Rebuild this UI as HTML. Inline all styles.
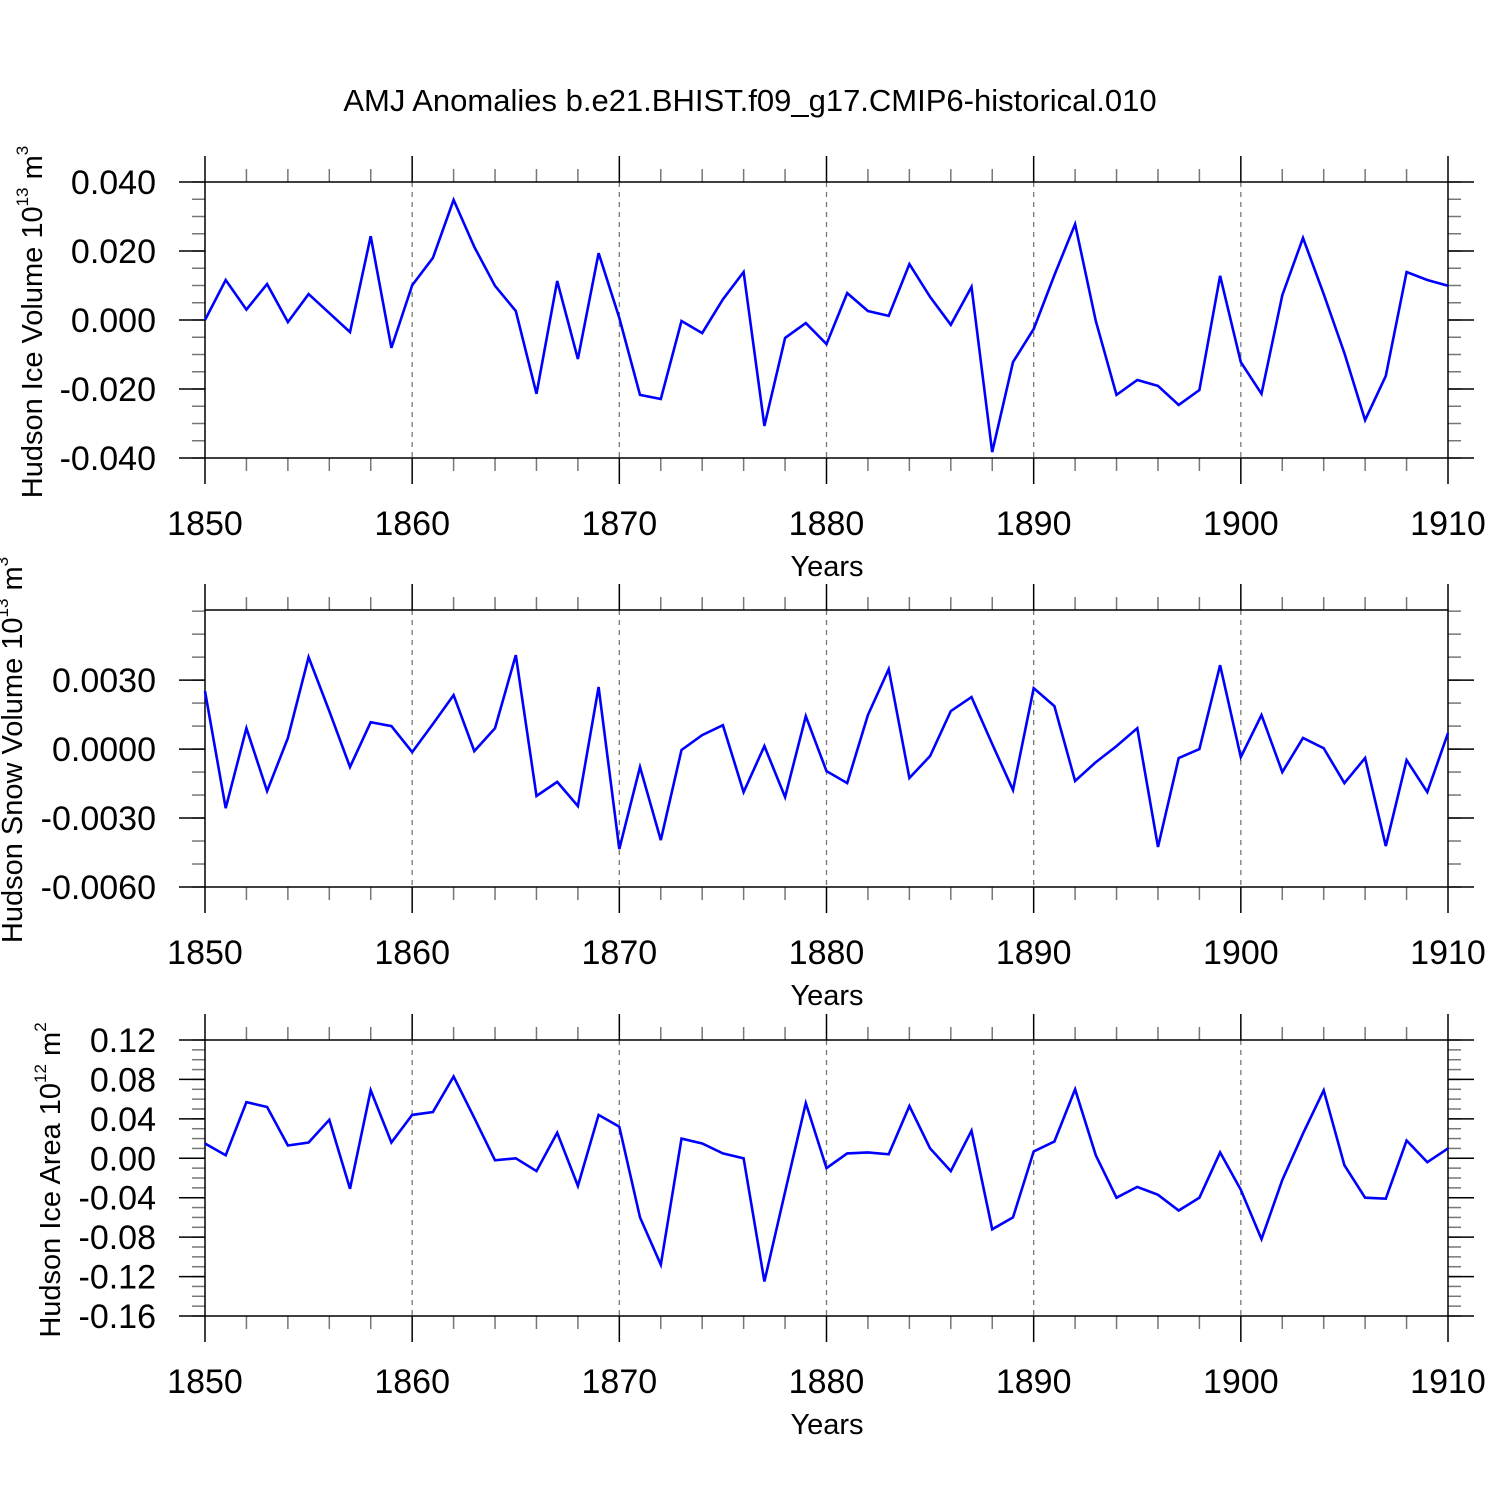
<!DOCTYPE html>
<html><head><meta charset="utf-8"><style>
body{margin:0;background:#fff}
svg{display:block;font-family:"Liberation Sans",sans-serif}
</style></head><body>
<svg id="chart" width="1500" height="1500" viewBox="0 0 1500 1500">
<rect width="1500" height="1500" fill="#fff"/>
<text x="750" y="111" font-size="31" text-anchor="middle">AMJ Anomalies b.e21.BHIST.f09_g17.CMIP6-historical.010</text>
</svg>
<script>
const years = [];
for (let y = 1850; y <= 1910; y++) years.push(y);
const iceVolume = [0,0.0116,0.003,0.0104,-0.0006,0.0075,0.002,-0.0035,0.0243,-0.0081,0.0101,0.018,0.0348,0.0212,0.0099,0.0026,-0.0214,0.0113,-0.0113,0.0194,0.0006,-0.0217,-0.0229,-0.0003,-0.0038,0.006,0.0139,-0.0307,-0.0052,-0.0009,-0.007,0.0078,0.0026,0.0012,0.0162,0.0067,-0.0014,0.0096,-0.0383,-0.0122,-0.0026,0.013,0.0278,-0.0003,-0.0217,-0.0174,-0.0191,-0.0246,-0.0203,0.0128,-0.0122,-0.0214,0.0072,0.0238,0.0075,-0.0096,-0.029,-0.0162,0.0139,0.0116,0.0099];
const snowVolume = [0.00252,-0.00257,0.00091,-0.00183,0.00048,0.004,0.00165,-0.00078,0.00117,0.001,-0.00013,0.00109,0.00235,-0.00009,0.00091,0.00409,-0.00204,-0.00143,-0.00248,0.0027,-0.00435,-0.00078,-0.00396,-0.00004,0.00061,0.00104,-0.00187,0.00013,-0.00209,0.00143,-0.00096,-0.00148,0.00148,0.00348,-0.00126,-0.0003,0.00165,0.00226,0.00022,-0.00178,0.00265,0.00187,-0.00139,-0.00057,0.00013,0.00091,-0.00426,-0.00039,0,0.00365,-0.00035,0.00148,-0.001,0.00048,0.00004,-0.00148,-0.00039,-0.00422,-0.00048,-0.00187,0.0007];
const iceArea = [0.015,0.003,0.057,0.052,0.013,0.016,0.039,-0.031,0.069,0.016,0.044,0.047,0.083,0.041,-0.002,0,-0.013,0.026,-0.028,0.044,0.032,-0.06,-0.108,0.02,0.015,0.005,0,-0.125,-0.034,0.056,-0.01,0.005,0.006,0.004,0.053,0.01,-0.013,0.028,-0.072,-0.06,0.007,0.017,0.07,0.003,-0.04,-0.029,-0.037,-0.053,-0.04,0.006,-0.032,-0.082,-0.022,0.025,0.069,-0.007,-0.04,-0.041,0.018,-0.004,0.01];
const xTicks = [1850,1860,1870,1880,1890,1900,1910];
const ticks1 = [0.04,0.02,0,-0.02,-0.04];
const tickLabels1 = ["0.040","0.020","0.000","-0.020","-0.040"];
const ticks2 = [0.003,0,-0.003,-0.006];
const tickLabels2 = ["0.0030","0.0000","-0.0030","-0.0060"];
const ticks3 = [0.12,0.08,0.04,0,-0.04,-0.08,-0.12,-0.16];
const tickLabels3 = ["0.12","0.08","0.04","0.00","-0.04","-0.08","-0.12","-0.16"];

const NS = "http://www.w3.org/2000/svg";
const svg = document.getElementById("chart");
const X0 = 205, X1 = 1448;
function xs(yr){ return X0 + (yr-1850)/60*(X1-X0); }
function mk(tag, attrs, parent){
  const e = document.createElementNS(NS, tag);
  for (const k in attrs) e.setAttribute(k, attrs[k]);
  (parent||svg).appendChild(e);
  return e;
}
function panel(cfg){
  const g = mk("g", {});
  
  
  const ys = v => cfg.top + (cfg.vmax - v)/(cfg.vmax - cfg.vmin)*(cfg.bot - cfg.top);
  for (let yr = 1860; yr <= 1900; yr += 10){
    const l = mk("line", {x1:xs(yr),x2:xs(yr),y1:cfg.top,y2:cfg.bot,stroke:"#777","stroke-width":1.3,"stroke-dasharray":"5,5"}, g);
    
    
  }
  for (let yr = 1850; yr <= 1910; yr += 2){
    if ((yr-1850)%10===0) continue;
    mk("line",{x1:xs(yr),x2:xs(yr),y1:cfg.top,y2:cfg.top-13,stroke:"#777","stroke-width":1.5},g);
    mk("line",{x1:xs(yr),x2:xs(yr),y1:cfg.bot,y2:cfg.bot+13,stroke:"#777","stroke-width":1.5},g);
  }
  xTicks.forEach(yr=>{
    mk("line",{x1:xs(yr),x2:xs(yr),y1:cfg.top,y2:cfg.top-26,stroke:"#000","stroke-width":1.5},g);
    mk("line",{x1:xs(yr),x2:xs(yr),y1:cfg.bot,y2:cfg.bot+26,stroke:"#000","stroke-width":1.5},g);
    const t = mk("text",{x:xs(yr),y:cfg.bot+77,"font-size":34,"text-anchor":"middle"},g);
    t.textContent = yr;
    
    
  });
  const n = Math.round((cfg.vmax - cfg.vmin)/cfg.minor);
  for (let i = 0; i <= n; i++){
    const v = cfg.vmin + i*cfg.minor;
    const y = ys(v);
    if (y < cfg.top-0.5 || y > cfg.bot+0.5) continue;
    mk("line",{x1:X0,x2:X0-13,y1:y,y2:y,stroke:"#777","stroke-width":1.5},g);
    mk("line",{x1:X1,x2:X1+13,y1:y,y2:y,stroke:"#777","stroke-width":1.5},g);
  }
  cfg.ticks.forEach((v,i)=>{
    const y = ys(v);
    mk("line",{x1:X0,x2:X0-26,y1:y,y2:y,stroke:"#000","stroke-width":1.5},g);
    mk("line",{x1:X1,x2:X1+26,y1:y,y2:y,stroke:"#000","stroke-width":1.5},g);
    const t = mk("text",{x:156,y:y+12,"font-size":34,"text-anchor":"end"},g);
    t.textContent = cfg.labels[i];
    
    
  });
  const fr = mk("rect",{x:X0,y:cfg.top,width:X1-X0,height:cfg.bot-cfg.top,fill:"none",stroke:"#000","stroke-width":1.5},g);
  
  
  const pts = cfg.data.map((v,i)=> xs(years[i]).toFixed(1)+","+ys(v).toFixed(1)).join(" ");
  const pl = mk("polyline",{points:pts,fill:"none",stroke:"#0000ff","stroke-width":2.6,"stroke-linejoin":"miter"},g);
  
  
  const xt = mk("text",{x:827,y:cfg.bot+118,"font-size":29,"text-anchor":"middle"},g);
  xt.textContent = "Years";
  
  
  const yt = mk("text",{x:0,y:0,"font-size":29,"text-anchor":"middle",transform:"translate("+cfg.tx+","+cfg.ty+") rotate(-90)"},g);
  yt.innerHTML = cfg.title + ' 10<tspan font-size="17" dy="-14">' + cfg.exp + '</tspan><tspan dy="14"> m</tspan><tspan font-size="17" dy="-14">' + cfg.unit + '</tspan>';
  
  
}
panel({name:"ice-volume-panel",top:182,bot:458,vmax:0.04,vmin:-0.04,minor:0.005,ticks:ticks1,labels:tickLabels1,data:iceVolume,title:"Hudson Ice Volume",exp:"13",unit:"3",tx:42,ty:322});
panel({name:"snow-volume-panel",top:610,bot:887,vmax:0.00605,vmin:-0.006,minor:0.001,ticks:ticks2,labels:tickLabels2,data:snowVolume,title:"Hudson Snow Volume",exp:"13",unit:"3",tx:22,ty:750});
panel({name:"ice-area-panel",top:1040,bot:1316,vmax:0.12,vmin:-0.16,minor:0.01,ticks:ticks3,labels:tickLabels3,data:iceArea,title:"Hudson Ice Area",exp:"12",unit:"2",tx:60,ty:1180});
</script>
</body></html>
